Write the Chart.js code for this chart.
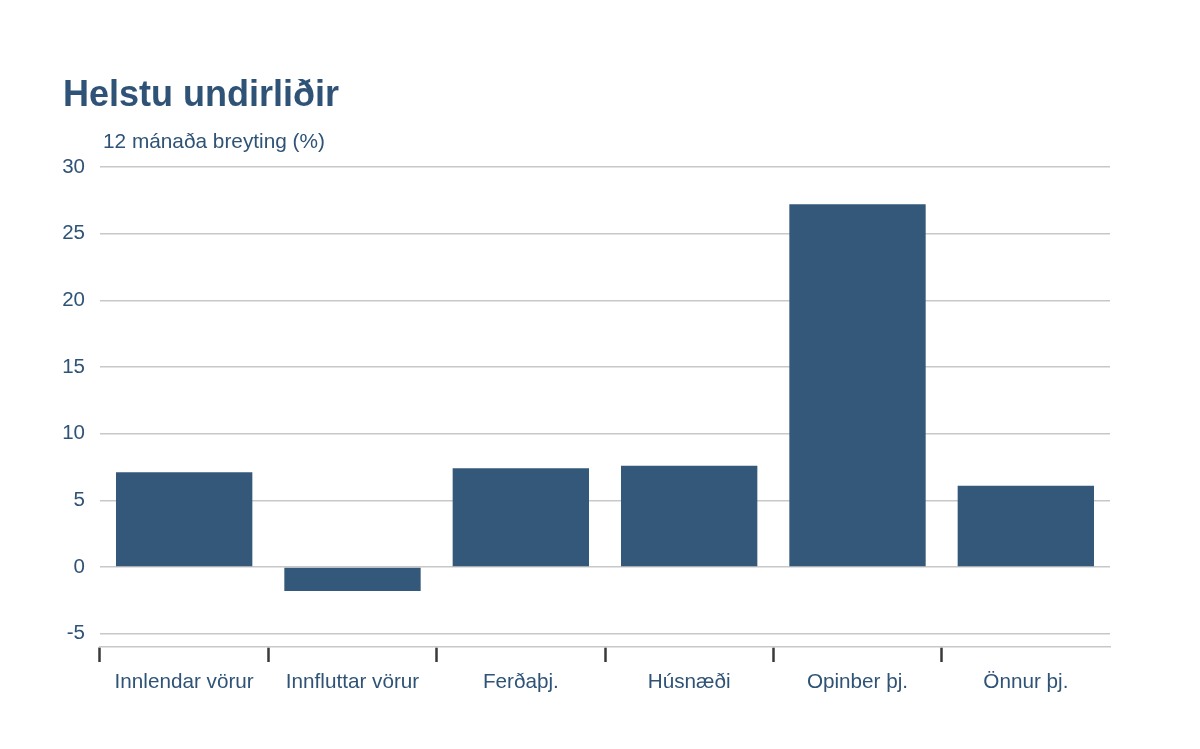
<!DOCTYPE html>
<html>
<head>
<meta charset="utf-8">
<script src="https://cdn.jsdelivr.net/npm/chart.js@4/dist/chart.umd.min.js"></script>
<style>
  html, body { margin: 0; padding: 0; background: #ffffff; }
  #wrap { position: relative; width: 1200px; height: 749px; overflow: hidden; }
  #chart { position: absolute; left: 0; top: 0; }
  .ttl { position: absolute; left: 63px; top: 76px; font: bold 36px/36px "Liberation Sans", Arial, sans-serif; color: #2f5377; white-space: nowrap; }
  .sub { position: absolute; left: 103px; top: 131px; font: 20.8px/20px "Liberation Sans", Arial, sans-serif; color: #2f5377; white-space: nowrap; }
</style>
</head>
<body>
<div id="wrap">
  <canvas id="chart" width="1200" height="749"></canvas>
  <div class="ttl">Helstu undirliðir</div>
  <div class="sub">12 mánaða breyting (%)</div>
</div>
<script>
const categories = ['Innlendar vörur', 'Innfluttar vörur', 'Ferðaþj.', 'Húsnæði', 'Opinber þj.', 'Önnur þj.'];
const values = [7.1, -1.8, 7.4, 7.6, 27.2, 6.1];
const yTicks = [-5, 0, 5, 10, 15, 20, 25, 30];
const yMin = -6;
const yMax = 30;

const textColor = '#2f5377';
const barColor = '#34587a';
const gridColor = '#c8c8c8';

new Chart(document.getElementById('chart'), {
  type: 'bar',
  data: {
    labels: categories,
    datasets: [{
      data: values,
      backgroundColor: barColor,
      borderWidth: 0,
      barPercentage: 0.81,
      categoryPercentage: 1.0
    }]
  },
  options: {
    responsive: false,
    animation: false,
    devicePixelRatio: 1,
    layout: { padding: { top: 167, left: 0, right: 90, bottom: 0 } },
    plugins: { legend: { display: false }, tooltip: { enabled: false }, title: { display: false } },
    scales: {
      x: {
        grid: {
          drawOnChartArea: false,
          drawTicks: true,
          tickLength: 15,
          tickWidth: 2.5,
          tickColor: (ctx) => (ctx.type === 'tick' && ctx.index < categories.length) ? '#3a3a3a' : 'rgba(0,0,0,0)'
        },
        border: { display: true, color: gridColor, width: 1.5 },
        ticks: {
          color: textColor,
          padding: 8,
          maxRotation: 0,
          autoSkip: false,
          font: { family: '"Liberation Sans", Arial, sans-serif', size: 20.7 }
        },
        afterFit: (s) => { s.height = 102; }
      },
      y: {
        min: yMin,
        max: yMax,
        afterBuildTicks: (s) => { s.ticks = yTicks.map(v => ({ value: v })); },
        grid: { color: gridColor, lineWidth: 1.5, drawTicks: false },
        border: { display: false },
        ticks: {
          color: textColor,
          padding: 15,
          font: { family: '"Liberation Sans", Arial, sans-serif', size: 20.5 }
        },
        afterFit: (s) => { s.width = 100; }
      }
    }
  }
});
</script>
</body>
</html>
